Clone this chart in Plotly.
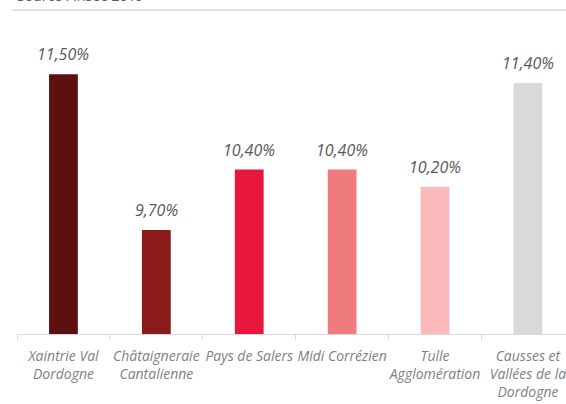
import plotly.graph_objects as go

categories = [
    "Xaintrie Val<br>Dordogne",
    "Châtaigneraie<br>Cantalienne",
    "Pays de Salers",
    "Midi Corrézien",
    "Tulle<br>Agglomération",
    "Causses et<br>Vallées de la<br>Dordogne",
]
values = [11.5, 9.7, 10.4, 10.4, 10.2, 11.4]
value_labels = ["11,50%", "9,70%", "10,40%", "10,40%", "10,20%", "11,40%"]
bar_colors = ["#5c1010", "#8b1a1a", "#e8173e", "#ef7b7e", "#fbb9bc", "#d9d9d9"]
source_text = "Source : Insee 2019"

fig = go.Figure()
fig.add_trace(go.Bar(
    x=categories, y=values, marker_color=bar_colors, width=0.31,
    marker_line_width=0, hoverinfo="skip",
))

# étiquettes de valeur au-dessus des barres
for cat, val, lab in zip(categories, values, value_labels):
    fig.add_annotation(
        x=cat, y=val, text=lab, showarrow=False, yanchor="bottom", yshift=7,
        font=dict(family="Open Sans", size=16, color="#595959", style="italic"),
    )

# titre source coupé en haut + filet gris
fig.add_annotation(
    xref="paper", yref="paper", x=-0.004, y=1.079, xanchor="left", yanchor="bottom",
    text=source_text, showarrow=False,
    font=dict(family="Open Sans", size=14, color="#595959"),
)
fig.add_shape(
    type="line", xref="paper", yref="paper", x0=-0.009, x1=1.0, y0=1.069, y1=1.069,
    line=dict(color="#d9d9d9", width=1.5),
)

fig.update_layout(
    width=566, height=404,
    margin=dict(l=17, r=0, t=31, b=70),
    plot_bgcolor="white", paper_bgcolor="white",
    showlegend=False,
    xaxis=dict(
        range=[-0.5, 5.41], showline=True, linecolor="#d9d9d9", linewidth=1,
        ticks="outside", tickson="boundaries", ticklen=5, tickcolor="#d9d9d9",
        ticklabelstandoff=9, tickangle=0, automargin=False,
        tickfont=dict(family="Open Sans", size=14, color="#7f7f7f", style="italic"),
        showgrid=False,
    ),
    yaxis=dict(range=[8.5, 12], visible=False, showgrid=False),
)

fig.write_html(
    "out.html", config={"displayModeBar": False},
    post_script="document.body.style.margin='0';",
)
